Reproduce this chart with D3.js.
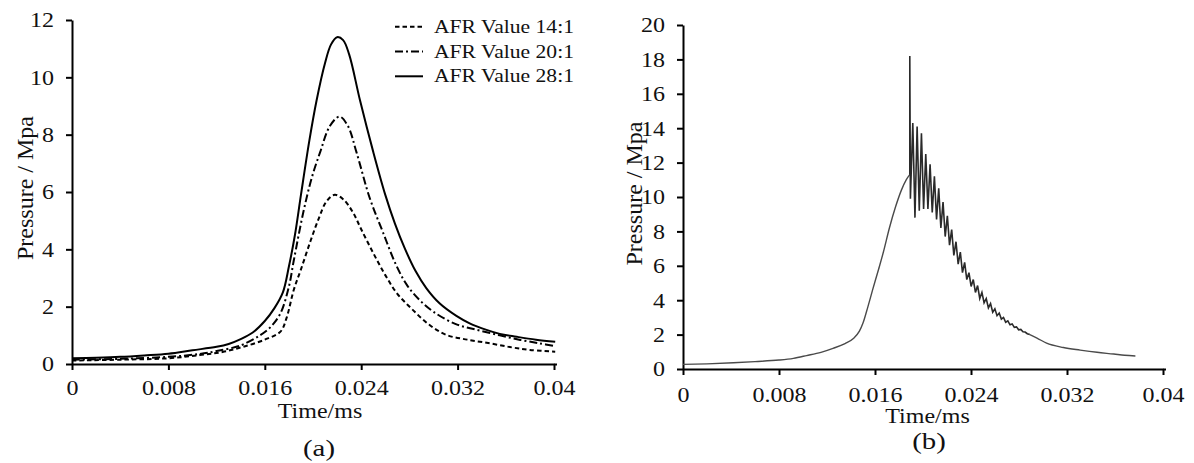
<html>
<head>
<script src="https://d3js.org/d3.v7.min.js"></script>
<style>
body { margin: 0; background: white; }
text { font-family: "Liberation Serif", "Times New Roman", Times, serif; fill: #111; }
.axis path, .axis line { stroke: black; stroke-width: 2; }
</style>
</head>
<body>
<svg id="chart" width="1194" height="463"></svg>
<script>

// tick values and labels
const timeTicks = [0, 0.008, 0.016, 0.024, 0.032, 0.04];
const timeTickLabels = ["0", "0.008", "0.016", "0.024", "0.032", "0.04"];
const pressTicksA = [0, 2, 4, 6, 8, 10, 12];
const pressTicksB = [0, 2, 4, 6, 8, 10, 12, 14, 16, 18, 20];
const seriesNames = ["AFR Value 14:1", "AFR Value 20:1", "AFR Value 28:1"];

// (a) pressure curves, [time, pressure]
const afr14 = [[0,0.12],[0.004,0.15],[0.008,0.2],[0.0106,0.31],[0.0125,0.42],[0.0142,0.6],[0.016,0.85],
  [0.0173,1.13],[0.0178,1.6],[0.0184,2.58],[0.019,3.3],[0.0198,4.3],[0.0205,5.1],[0.0211,5.66],[0.0218,5.9],
  [0.0225,5.75],[0.0233,5.3],[0.024,4.7],[0.025,3.87],[0.026,3.1],[0.027,2.45],[0.0283,1.88],[0.0297,1.35],
  [0.0311,1.01],[0.0328,0.85],[0.0347,0.72],[0.0365,0.58],[0.038,0.49],[0.0401,0.43]];
const afr20 = [[0,0.15],[0.004,0.18],[0.008,0.25],[0.0106,0.35],[0.012,0.45],[0.014,0.65],[0.0156,1.0],
  [0.0165,1.3],[0.0173,1.77],[0.018,2.7],[0.0184,3.6],[0.0192,5.3],[0.0199,6.5],[0.0206,7.4],[0.0214,8.3],
  [0.0222,8.63],[0.0229,8.3],[0.0236,7.4],[0.0247,5.8],[0.0258,4.6],[0.0269,3.45],[0.0278,2.75],[0.0288,2.25],
  [0.03,1.82],[0.0318,1.4],[0.0336,1.19],[0.0355,1.0],[0.0372,0.84],[0.0388,0.72],[0.0401,0.62]];
const afr28 = [[0,0.2],[0.002,0.22],[0.004,0.25],[0.006,0.3],[0.008,0.36],[0.010,0.48],[0.012,0.6],[0.013,0.7],
  [0.014,0.87],[0.015,1.1],[0.016,1.5],[0.0168,1.95],[0.0175,2.5],[0.018,3.4],[0.0185,4.5],[0.019,5.9],
  [0.0197,7.8],[0.0203,9.2],[0.021,10.5],[0.0215,11.15],[0.022,11.4],[0.0225,11.3],[0.023,10.8],[0.0239,9.2],
  [0.025,7.4],[0.026,5.9],[0.0268,4.9],[0.0276,4.05],[0.0285,3.25],[0.0294,2.65],[0.0305,2.12],[0.0319,1.68],
  [0.033,1.42],[0.0344,1.19],[0.0355,1.05],[0.0369,0.95],[0.0385,0.85],[0.0401,0.78]];

// (b) knock pressure: rise, oscillation, tail
const riseB = [[0,0.27],[0.002,0.3],[0.0042,0.36],[0.006,0.43],[0.008,0.52],[0.0092,0.62],[0.0103,0.78],
  [0.0115,0.97],[0.0125,1.2],[0.0135,1.48],[0.0142,1.78],[0.0147,2.2],[0.015,2.67],[0.0154,3.6],[0.0158,4.6],
  [0.0163,5.8],[0.0167,6.8],[0.0172,8.2],[0.0177,9.4],[0.0182,10.4],[0.0186,11.0],[0.0189,11.3]];
const knockB = [[0.0189,11.3],[0.0189,18.2],[0.01895,9.9],[0.01915,14.3],[0.01933,8.8],[0.01951,14.1],[0.01969,9.2],
  [0.01987,13.7],[0.02005,9.3],[0.02023,12.5],[0.02041,9.3],[0.02059,11.9],[0.02077,9.1],[0.02095,11.2],
  [0.02113,8.7],[0.02131,10.5],[0.02149,8.2],[0.02167,9.7],[0.02185,7.7],[0.02203,8.9],[0.02221,7.2],
  [0.02239,8.1],[0.02257,6.6],[0.02275,7.4],[0.02293,6.1],[0.02311,6.8],[0.02329,5.6],[0.02347,6.2],
  [0.02365,5.2],[0.02383,5.6],[0.02401,4.8],[0.02419,5.2],[0.02437,4.45],[0.02455,4.85],[0.02473,4.1],
  [0.02491,4.45],[0.02509,3.85],[0.02527,4.1],[0.02545,3.55],[0.02563,3.8],[0.02581,3.3],[0.02599,3.5],
  [0.02617,3.1],[0.02635,3.25],[0.02653,2.9],[0.02671,3.0],[0.02689,2.72],[0.02707,2.8],[0.02725,2.57],
  [0.02743,2.62],[0.02761,2.42],[0.02779,2.45],[0.02797,2.28],[0.02815,2.3],[0.02833,2.16],[0.02851,2.15],
  [0.02869,2.05],[0.0289,2.0]];
const tailB = [[0.0289,2.0],[0.0295,1.8],[0.0303,1.5],[0.0317,1.25],[0.0331,1.1],[0.0345,0.97],[0.0359,0.87],
  [0.0368,0.8],[0.0377,0.76]];

const svg = d3.select("svg#chart");
svg.append("rect").attr("width", 1194).attr("height", 463).attr("fill", "white");

//text helper, the figure is stretched sideways a little
function label(x, y, str, size) {
  return svg.append("text")
    .attr("transform", `translate(${x},${y}) scale(1.2,1)`)
    .attr("text-anchor", "middle")
    .attr("font-size", size)
    .text(str);
}

function drawPanel(xRange, yRange, yMax, yTicks, xLabY) {
  const x = d3.scaleLinear().domain([0, 0.04]).range(xRange);
  const y = d3.scaleLinear().domain([0, yMax]).range(yRange);

  let leftAxis = d3.axisLeft(y).tickValues(yTicks).tickSize(6).tickSizeOuter(0);
  let ga = svg.append("g").attr("class", "axis")
    .attr("transform", `translate(${xRange[0]},0)`)
    .call(leftAxis)
    .attr("font-family", null).attr("font-size", 20);
  ga.selectAll("text").attr("x", 0).attr("dy", "0.34em")
    .attr("transform", "translate(-18,0) scale(1.2,1)").attr("fill", "#111");

  let bottomAxis = d3.axisBottom(x).tickValues(timeTicks)
    .tickFormat((d, i) => timeTickLabels[i]).tickSize(6).tickSizeOuter(0);
  let gb = svg.append("g").attr("class", "axis")
    .attr("transform", `translate(0,${yRange[0]})`)
    .call(bottomAxis)
    .attr("font-family", null).attr("font-size", 20);
  gb.selectAll("text").attr("y", 0).attr("dy", 0)
    .attr("transform", `translate(0,${xLabY}) scale(1.2,1)`).attr("fill", "#111");
  // axis line runs a bit past the last tick
  gb.append("line").attr("x1", xRange[1]).attr("x2", xRange[1] + 3)
    .attr("y1", 0.5).attr("y2", 0.5);

  return {x, y};
}

// ---- (a)
const a = drawPanel([72, 554], [364, 20], 12, pressTicksA, 31);
const lineA = d3.line().x(d => a.x(d[0])).y(d => a.y(d[1])).curve(d3.curveCatmullRom.alpha(0.5));
const dashes = ["4.5,3", "8,3,2,3", null];
[afr14, afr20, afr28].forEach((s, i) => {
  svg.append("path").datum(s)
    .attr("d", lineA)
    .attr("fill", "none")
    .attr("stroke", "black")
    .attr("stroke-width", 2)
    .attr("stroke-dasharray", dashes[i]);
});

svg.append("text")
  .attr("transform", "translate(33,188) rotate(-90)")
  .attr("text-anchor", "middle").attr("font-size", 24)
  .text("Pressure / Mpa");
label(320, 418, "Time/ms", 20);
label(319, 456, "(a)", 24);

//legend
const legend = svg.append("g").attr("class", "legend");
seriesNames.forEach((n, i) => {
  let by = 32.7 + i * 24.8;
  legend.append("line").attr("x1", 395).attr("x2", 423)
    .attr("y1", by - 6).attr("y2", by - 6)
    .attr("stroke", "black").attr("stroke-width", 2)
    .attr("stroke-dasharray", dashes[i]);
  legend.append("text")
    .attr("transform", `translate(434,${by}) scale(1.2,1)`)
    .attr("font-size", 18)
    .text(n);
});

// ---- (b)
const b = drawPanel([683, 1163], [369, 25], 20, pressTicksB, 33);
const smoothB = d3.line().x(d => b.x(d[0])).y(d => b.y(d[1])).curve(d3.curveMonotoneX);
const sharpB = d3.line().x(d => b.x(d[0])).y(d => b.y(d[1]));
svg.append("path").datum(riseB).attr("d", smoothB)
  .attr("fill", "none").attr("stroke", "#4a4a4a").attr("stroke-width", 1.4);
svg.append("path").datum(knockB).attr("d", sharpB)
  .attr("fill", "none").attr("stroke", "#2a2a2a").attr("stroke-width", 1.6);
svg.append("path").datum(tailB).attr("d", smoothB)
  .attr("fill", "none").attr("stroke", "#4a4a4a").attr("stroke-width", 1.4);

svg.append("text")
  .attr("transform", "translate(642,193.5) rotate(-90)")
  .attr("text-anchor", "middle").attr("font-size", 24)
  .text("Pressure / Mpa");
label(927.5, 423, "Time/ms", 20);
label(929, 449, "(b)", 24);

</script>
</body>
</html>
